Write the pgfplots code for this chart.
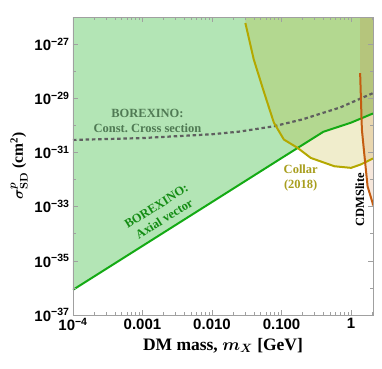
\documentclass[border=0pt]{standalone}
\usepackage{amsmath}
\usepackage{fontspec}
\setmainfont{Liberation Serif}
\setsansfont{Liberation Sans}
\usepackage{pgfplots}
\pgfplotsset{compat=1.18}

\definecolor{borfill}{RGB}{179,229,181}
\definecolor{borline}{RGB}{20,170,20}
\definecolor{bortext}{RGB}{20,140,20}
\definecolor{constline}{RGB}{95,95,95}
\definecolor{consttext}{RGB}{80,122,84}
\definecolor{collarfill}{RGB}{180,165,0}
\definecolor{collarline}{RGB}{180,168,0}
\definecolor{collartext}{RGB}{168,158,30}
\definecolor{cdmsline}{RGB}{196,92,16}
\definecolor{framegray}{RGB}{160,160,160}

\newcommand\tickfont{\sffamily\bfseries\fontsize{15}{15}\selectfont}
\newcommand\xlabfont{\bfseries\fontsize{17.5}{20}\selectfont}
\newcommand\ylabfont{\bfseries\fontsize{15.5}{18}\selectfont}
\newcommand\annfont{\bfseries\fontsize{12.5}{15}\selectfont}
\newcommand\ex[1]{10\textsuperscript{#1}}

\begin{document}
\begin{tikzpicture}
\begin{axis}[
  name=ax,
  scale only axis,
  width=300pt, height=298pt,
  xmode=log, ymode=log,
  xmin=1e-4, xmax=2.07, ymin=1e-37, ymax=1e-26,
  axis line style={draw=framegray, line width=0.8pt},
  every tick/.style={draw=framegray, line width=0.6pt},
  major tick length=5pt, minor tick length=3pt,
  xtick={1e-4,1e-3,1e-2,1e-1,1},
  xticklabels={\ex{−4},0.001,0.010,0.100,1},
  minor xtick={2e-4,3e-4,4e-4,5e-4,6e-4,7e-4,8e-4,9e-4,2e-3,3e-3,4e-3,5e-3,6e-3,7e-3,8e-3,9e-3,2e-2,3e-2,4e-2,5e-2,6e-2,7e-2,8e-2,9e-2,0.2,0.3,0.4,0.5,0.6,0.7,0.8,0.9,2},
  ytick={1e-37,1e-35,1e-33,1e-31,1e-29,1e-27},
  yticklabels={\ex{−37},\ex{−35},\ex{−33},\ex{−31},\ex{−29},\ex{−27}},
  minor ytick={1e-36,1e-34,1e-32,1e-30,1e-28},
  ticklabel style={font=\tickfont},
  xlabel={\xlabfont DM mass, $\boldsymbol{m_X}$ [GeV]},
  ylabel={\ylabfont $\boldsymbol{\sigma^{p}_{\mathbf{SD}}}$ (cm$^{\mathbf{2}}$)},
  axis on top,
]
% BOREXINO axial vector region
\addplot[fill=borfill, draw=none] coordinates {
  (1e-4,8.5e-37) (0.01,1.48e-33) (0.1,6.2e-32) (0.4,5.8e-31)
  (1,1.26e-30) (2.07,2.75e-30) (2.07,1e-26) (1e-4,1e-26)};
% Collar (2018) region
\addplot[fill=collarfill, fill opacity=0.2, draw=none] coordinates {
  (0.0302,6.0e-27) (0.0398,2.75e-28) (0.0562,1.62e-29) (0.0776,1.26e-30)
  (0.108,3.0e-31) (0.17,1.48e-31) (0.263,6.3e-32) (0.575,3.1e-32)
  (1.0,2.7e-32) (1.38,3.6e-32) (2.07,6.0e-32) (2.07,1e-26) (0.0302,1e-26)};
% CDMSlite region
\addplot[fill=cdmsline, fill opacity=0.15, draw=none] coordinates {
  (1.352,1e-26) (1.352,8.5e-29) (1.432,7.1e-31) (1.545,9.8e-32)
  (1.73,5.6e-33) (2.04,1.38e-33) (2.07,1.1e-33) (2.07,1e-26)};

% lines
\addplot[draw=borline, line width=2pt] coordinates {
  (1e-4,8.5e-37) (0.01,1.48e-33) (0.1,6.2e-32) (0.4,5.8e-31)
  (1,1.26e-30) (2.07,2.75e-30)};
\addplot[draw=constline, line width=2.2pt, dash pattern=on 3.5pt off 2.8pt] coordinates {
  (1e-4,2.9e-31) (1e-3,3.4e-31) (1e-2,4.7e-31) (0.025,5.9e-31)
  (0.078,9.3e-31) (0.2,1.66e-30) (0.7,4.6e-30) (2.07,1.55e-29)};
\addplot[draw=collarline, line width=2pt] coordinates {
  (0.0302,6.0e-27) (0.0398,2.75e-28) (0.0562,1.62e-29) (0.0776,1.26e-30)
  (0.108,3.0e-31) (0.17,1.48e-31) (0.263,6.3e-32) (0.575,3.1e-32)
  (1.0,2.7e-32) (1.38,3.6e-32) (2.07,6.0e-32)};
\addplot[draw=cdmsline, line width=2pt] coordinates {
  (1.352,8.5e-29) (1.432,7.1e-31) (1.545,9.8e-32)
  (1.73,5.6e-33) (2.04,1.38e-33) (2.07,1.1e-33)};

% annotations
\node[text=consttext, align=center, font=\annfont] at (axis cs:1.18e-3,1.5e-30)
  {BOREXINO:\\Const.\ Cross section};
\node[text=bortext, align=center, rotate=32, font=\annfont] at (axis cs:1.8e-3,6.0e-34)
  {BOREXINO:\\Axial vector};
\node[text=collartext, align=center, font=\annfont] at (axis cs:0.189,1.1e-32)
  {Collar\\{}(2018)};
\node[text=black, rotate=90, font=\annfont] at (axis cs:1.34,1.8e-33) {CDMSlite};
\end{axis}
\path ([xshift=-73pt,yshift=-54pt]ax.south west) rectangle ([xshift=9pt,yshift=17pt]ax.north east);
\end{tikzpicture}
\end{document}
